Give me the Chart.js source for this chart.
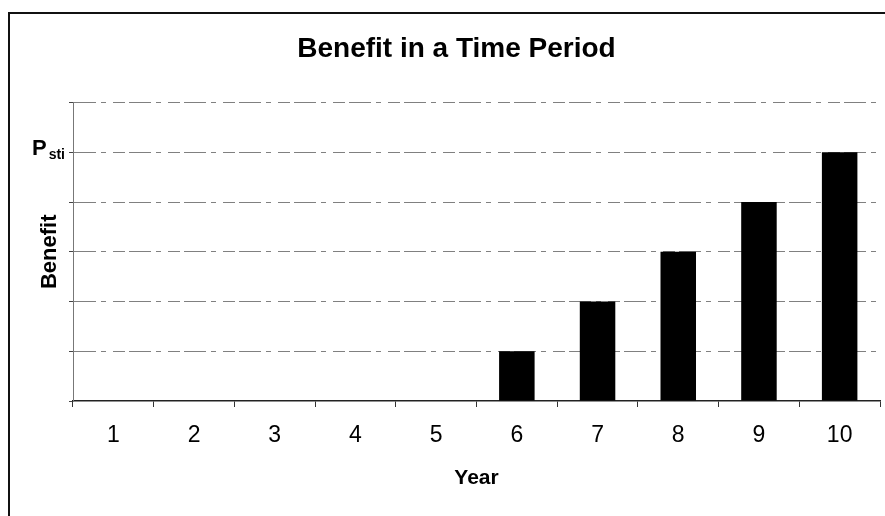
<!DOCTYPE html>
<html>
<head>
<meta charset="utf-8">
<title>Benefit in a Time Period</title>
<script src="https://cdn.jsdelivr.net/npm/chart.js@4.4.1/dist/chart.umd.min.js"></script>
<style>
  html, body { margin: 0; padding: 0; background: #fff; }
  #frame {
    position: absolute; left: 8px; top: 12px; width: 900px; height: 520px;
    border-left: 2px solid #111; border-top: 2px solid #111;
  }
  #wrap { position: absolute; left: 0; top: 0; width: 885px; height: 516px; }
</style>
</head>
<body>
<div id="frame"></div>
<div id="wrap"><canvas id="chart" width="885" height="516"></canvas></div>
<script>
// Benefit received in each year of the period
const years = ['1', '2', '3', '4', '5', '6', '7', '8', '9', '10'];
const benefit = [0, 0, 0, 0, 0, 1, 2, 3, 4, 5];
const yMax = 6;
const pstiValue = 5;
const pstiMain = 'P';
const pstiSub = 'sti';

const FONT = "'Liberation Sans', Arial, Helvetica, sans-serif";

// Writes the P_sti label (with subscript) beside the y axis
const pstiLabelPlugin = {
  id: 'pstiLabel',
  afterDraw(chart) {
    const y = chart.scales.y;
    const py = y.getPixelForValue(pstiValue);
    const ctx = chart.ctx;
    ctx.save();
    ctx.fillStyle = '#000';
    ctx.textAlign = 'left';
    ctx.textBaseline = 'alphabetic';
    ctx.font = 'bold 22px ' + FONT;
    ctx.fillText(pstiMain, y.right - 41, py + 3);
    const w = ctx.measureText(pstiMain).width;
    ctx.font = 'bold 14px ' + FONT;
    ctx.fillText(pstiSub, y.right - 41 + w + 2, py + 7);
    ctx.restore();
  }
};

new Chart(document.getElementById('chart'), {
  type: 'bar',
  data: {
    labels: years,
    datasets: [{
      label: 'Benefit',
      data: benefit,
      backgroundColor: '#000',
      borderWidth: 0,
      categoryPercentage: 1.0,
      barPercentage: 0.44
    }]
  },
  options: {
    responsive: false,
    animation: false,
    layout: { padding: { left: 33, right: 5, top: 0, bottom: 0 } },
    plugins: {
      legend: { display: false },
      tooltip: { enabled: false },
      title: {
        display: true,
        text: 'Benefit in a Time Period',
        color: '#000',
        font: { family: FONT, size: 28, weight: 'bold' },
        padding: { top: 32, bottom: 37 }
      }
    },
    scales: {
      x: {
        grid: {
          offset: true,
          drawOnChartArea: false,
          drawTicks: true,
          tickLength: 6,
          color: '#333'
        },
        border: { display: true, color: '#222', width: 1.5 },
        ticks: {
          color: '#000',
          font: { family: FONT, size: 23 },
          padding: 15,
          maxRotation: 0
        },
        title: {
          display: true,
          text: 'Year',
          color: '#000',
          font: { family: FONT, size: 21, weight: 'bold' },
          padding: { top: 0, bottom: 25 }
        },
        afterFit(scale) { scale.height = 115; }
      },
      y: {
        min: 0,
        max: yMax,
        grid: {
          color: (c) => (c.tick && c.tick.value === 0 ? 'rgba(0,0,0,0)' : '#808080'),
          lineWidth: 1,
          tickColor: '#444',
          tickLength: 4
        },
        // dashes here apply to the horizontal grid lines
        border: { display: true, color: '#777', width: 1, dash: [22, 5, 5, 7, 12, 4] },
        ticks: {
          stepSize: 1,
          callback: () => '',
          padding: 0
        },
        title: {
          display: true,
          text: 'Benefit',
          color: '#000',
          font: { family: FONT, size: 22, weight: 'bold' },
          padding: { top: 4, bottom: 0 }
        },
        afterFit(scale) { scale.width = 40; }
      }
    }
  },
  plugins: [pstiLabelPlugin]
});
</script>
</body>
</html>
